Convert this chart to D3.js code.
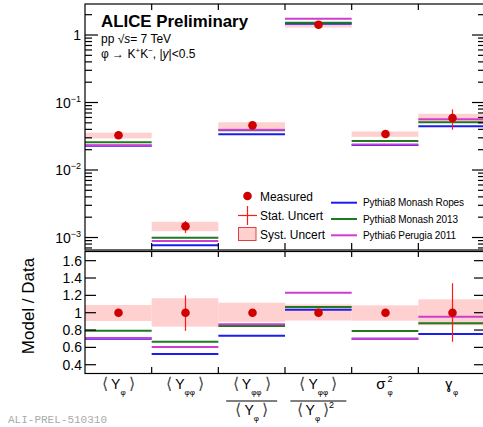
<!DOCTYPE html>
<html>
<head>
<meta charset="utf-8">
<script src="https://cdn.jsdelivr.net/npm/d3@7"></script>
<style>
  html, body { margin: 0; background: #fff; overflow: hidden; }
  svg { display: block; font-family: "Liberation Sans", Arial, Helvetica, sans-serif; }
</style>
</head>
<body>
<div id="chart"></div>
<script>
// bins (x categories)
const bins = ["Yphi", "Yphiphi", "ratio1", "ratio2", "sigma2", "gamma"];

// top panel: absolute values
const measured  = [0.0327, 0.00147, 0.0459, 1.42, 0.0341, 0.059];
const systLo    = [0.0294, 0.00124, 0.0410, 1.29, 0.0310, 0.0510];
const systHi    = [0.0357, 0.00171, 0.0510, 1.55, 0.0372, 0.0680];
const statLo    = [0.0325, 0.00117, 0.0457, 1.41, 0.0339, 0.0395];
const statHi    = [0.0329, 0.00176, 0.0461, 1.43, 0.0343, 0.0790];
const ropes     = [0.0228, 0.00077, 0.0338, 1.47, 0.0235, 0.0444];
const monash    = [0.0258, 0.00099, 0.0388, 1.52, 0.0269, 0.0512];
const perugia   = [0.0233, 0.00089, 0.0396, 1.74, 0.0239, 0.0564];

// bottom panel: model / data
const rMeasured = [1, 1, 1, 1, 1, 1];
const rSystLo   = [0.904, 0.839, 0.895, 0.910, 0.908, 0.855];
const rSystHi   = [1.089, 1.166, 1.115, 1.095, 1.085, 1.154];
const rStatLo   = [0.995, 0.790, 0.995, 0.995, 0.995, 0.665];
const rStatHi   = [1.005, 1.200, 1.005, 1.005, 1.005, 1.340];
const rRopes    = [0.700, 0.524, 0.735, 1.035, 0.700, 0.755];
const rMonash   = [0.793, 0.666, 0.847, 1.067, 0.789, 0.878];
const rPerugia  = [0.708, 0.605, 0.866, 1.230, 0.700, 0.954];

const topTicks = [1e-3, 1e-2, 1e-1, 1];
const topTickExp = ["-3", "-2", "-1", ""];
const ratioTicks = [0.4, 0.6, 0.8, 1, 1.2, 1.4, 1.6];
const ratioTickLabels = ["0.4", "0.6", "0.8", "1", "1.2", "1.4", "1.6"];

const models = [
  {name: "Pythia8 Monash Ropes", top: ropes, ratio: rRopes, color: "#1c1cf0", len: 101},
  {name: "Pythia8 Monash 2013", top: monash, ratio: rMonash, color: "#1e7a1e", len: 95},
  {name: "Pythia6 Perugia 2011", top: perugia, ratio: rPerugia, color: "#d03cd0", len: 93}
];

const red = "#d10000", statRed = "#ff1a1a", pink = "#ffd0d0";
const W = 483, H = 427;
const x0 = 85, x1 = 485;

const svg = d3.select("#chart").append("svg").attr("width", W).attr("height", H);

const x = d3.scaleBand().domain(bins).range([x0, x1]).padding(0);
const yTop = d3.scaleLog().domain([6.53e-4, 2.88]).range([250, 4]);
const yRat = d3.scaleLinear().domain([0.3, 1.7]).range([373.4, 252]);

function drawData(g, y, sLo, sHi, stLo, stHi, meas, key) {
  g.selectAll("rect.syst").data(bins).enter().append("rect").attr("class", "syst")
    .attr("x", d => x(d)).attr("width", x.bandwidth())
    .attr("y", (d, i) => y(sHi[i])).attr("height", (d, i) => y(sLo[i]) - y(sHi[i]))
    .attr("fill", pink);
  models.forEach((m, k) => {
    g.selectAll("line.m" + k).data(bins).enter().append("line").attr("class", "m" + k)
      .attr("x1", d => x(d)).attr("x2", d => x(d) + x.bandwidth())
      .attr("y1", (d, i) => y(m[key][i])).attr("y2", (d, i) => y(m[key][i]))
      .attr("stroke", m.color).attr("stroke-width", 2);
  });
  g.selectAll("line.stat").data(bins).enter().append("line").attr("class", "stat")
    .attr("x1", d => Math.round(x(d) + x.bandwidth() / 2) + 0.5)
    .attr("x2", d => Math.round(x(d) + x.bandwidth() / 2) + 0.5)
    .attr("y1", (d, i) => y(stLo[i])).attr("y2", (d, i) => y(stHi[i]))
    .attr("stroke", statRed).attr("stroke-width", 1.2);
  g.selectAll("circle.pt").data(bins).enter().append("circle").attr("class", "pt")
    .attr("cx", d => Math.round(x(d) + x.bandwidth() / 2) + 0.5)
    .attr("cy", (d, i) => y(meas[i])).attr("r", 4.3).attr("fill", red);
}

drawData(svg.append("g"), yTop, systLo, systHi, statLo, statHi, measured, "top");
drawData(svg.append("g"), yRat, rSystLo, rSystHi, rStatLo, rStatHi, rMeasured, "ratio");

// frames
const frame = svg.append("g").attr("stroke", "#000").attr("fill", "none").attr("stroke-width", 1.2);
frame.append("rect").attr("x", x0).attr("y", 4).attr("width", x1 - x0).attr("height", 246);
frame.append("rect").attr("x", x0).attr("y", 251.5).attr("width", x1 - x0).attr("height", 122);

// bin boundary ticks
const edges = bins.slice(1).map(b => x(b));
edges.forEach(e => {
  frame.append("line").attr("x1", e).attr("x2", e).attr("y1", 4).attr("y2", 10);
  frame.append("line").attr("x1", e).attr("x2", e).attr("y1", 250).attr("y2", 243);
  frame.append("line").attr("x1", e).attr("x2", e).attr("y1", 251.5).attr("y2", 257);
  frame.append("line").attr("x1", e).attr("x2", e).attr("y1", 373.5).attr("y2", 367);
});

// log ticks top panel
yTop.ticks().forEach(t => {
  const major = topTicks.some(v => Math.abs(v - t) / v < 1e-6);
  const len = major ? 13 : 7;
  const yy = yTop(t);
  frame.append("line").attr("x1", x0).attr("x2", x0 + len).attr("y1", yy).attr("y2", yy);
  frame.append("line").attr("x1", x1).attr("x2", x1 - len).attr("y1", yy).attr("y2", yy);
});
topTicks.forEach((t, i) => {
  const tx = svg.append("text").attr("x", 81).attr("y", yTop(t) + 5)
    .attr("text-anchor", "end").attr("font-size", 14);
  if (topTickExp[i] === "") { tx.text("1"); }
  else {
    tx.append("tspan").text("10");
    tx.append("tspan").attr("font-size", 9).attr("dy", -6).text(topTickExp[i].replace("-", "\u2212"));
  }
});

// ratio ticks
ratioTicks.forEach((t, i) => {
  const yy = yRat(t);
  frame.append("line").attr("x1", x0).attr("x2", x0 + 11).attr("y1", yy).attr("y2", yy);
  frame.append("line").attr("x1", x1).attr("x2", x1 - 11).attr("y1", yy).attr("y2", yy);
  svg.append("text").attr("x", 82).attr("y", yy + 5)
    .attr("text-anchor", "end").attr("font-size", 14).text(ratioTickLabels[i]);
});

svg.append("text").attr("transform", "translate(34,306) rotate(-90)")
  .attr("text-anchor", "middle").attr("font-size", 17).text("Model / Data");

// titles
svg.append("text").attr("x", 101).attr("y", 27).attr("font-weight", "bold")
  .attr("font-size", 16.5).attr("textLength", 147).attr("lengthAdjust", "spacingAndGlyphs")
  .text("ALICE Preliminary");
const t2 = svg.append("text").attr("x", 101).attr("y", 43).attr("font-size", 12);
t2.append("tspan").text("pp ");
t2.append("tspan").text("\u221A");
t2.append("tspan").attr("font-style", "italic").text("s");
t2.append("tspan").text("= 7 TeV");
const t3 = svg.append("text").attr("x", 101).attr("y", 58).attr("font-size", 12);
t3.append("tspan").text("\u03C6 \u2192 K");
t3.append("tspan").attr("font-size", 8).attr("dy", -5).text("+");
t3.append("tspan").attr("dy", 5).text("K");
t3.append("tspan").attr("font-size", 8).attr("dy", -5).text("\u2212");
t3.append("tspan").attr("dy", 5).text(", |");
t3.append("tspan").attr("font-style", "italic").text("y");
t3.append("tspan").text("|<0.5");

// legend left
const lg = svg.append("g");
lg.append("circle").attr("cx", 247.5).attr("cy", 196).attr("r", 4.3).attr("fill", red);
lg.append("line").attr("x1", 238).attr("x2", 257).attr("y1", 215.5).attr("y2", 215.5).attr("stroke", statRed).attr("stroke-width", 1.2);
lg.append("line").attr("x1", 247.5).attr("x2", 247.5).attr("y1", 206).attr("y2", 225).attr("stroke", statRed).attr("stroke-width", 1.2);
lg.append("rect").attr("x", 238.5).attr("y", 227.5).attr("width", 17.5).attr("height", 13)
  .attr("fill", pink).attr("stroke", "#e04040").attr("stroke-width", 1);
[["Measured", 200.5, 53], ["Stat. Uncert", 220, 63], ["Syst. Uncert", 238.5, 65]].forEach(([t, yy, len]) => {
  lg.append("text").attr("x", 260).attr("y", yy).attr("font-size", 12.5)
    .attr("textLength", len).attr("lengthAdjust", "spacingAndGlyphs").text(t);
});
// legend right
models.forEach((m, i) => {
  const yy = 202.7 + i * 16.3;
  lg.append("line").attr("x1", 331).attr("x2", 357).attr("y1", yy).attr("y2", yy)
    .attr("stroke", m.color).attr("stroke-width", 2);
  lg.append("text").attr("x", 363).attr("y", yy + 3.5).attr("font-size", 10)
    .attr("textLength", m.len).attr("lengthAdjust", "spacing").text(m.name);
});

// x labels
function bracket(cx, base, sub, sup) {
  const t = svg.append("text").attr("x", cx).attr("y", base).attr("text-anchor", "middle")
    .attr("font-size", 14);
  t.append("tspan").attr("font-size", 16).attr("fill", "#444").text("\u27E8");
  t.append("tspan").attr("dx", 3).text("Y");
  t.append("tspan").attr("font-size", 8).attr("dy", 6).text(sub);
  t.append("tspan").attr("font-size", 16).attr("fill", "#444").attr("dy", -6).attr("dx", 3).text("\u27E9");
  if (sup) t.append("tspan").attr("font-size", 9).attr("dy", -7).text(sup);
}
const cx = bins.map(b => x(b) + x.bandwidth() / 2);
bracket(cx[0], 389, "\u03C6");
bracket(cx[1], 389, "\u03C6\u03C6");
bracket(cx[2], 389, "\u03C6\u03C6");
svg.append("line").attr("x1", cx[2] - 25.5).attr("x2", cx[2] + 25.5).attr("y1", 401).attr("y2", 401).attr("stroke", "#000").attr("stroke-width", 1.2);
bracket(cx[2], 415, "\u03C6");
bracket(cx[3], 389, "\u03C6\u03C6");
svg.append("line").attr("x1", cx[3] - 28).attr("x2", cx[3] + 28).attr("y1", 401).attr("y2", 401).attr("stroke", "#000").attr("stroke-width", 1.2);
bracket(cx[3] - 3, 415, "\u03C6", "2");
svg.append("text").attr("x", cx[4] - 4).attr("y", 389).attr("text-anchor", "middle").attr("font-size", 15).text("\u03C3");
svg.append("text").attr("x", cx[4] + 5).attr("y", 382).attr("text-anchor", "middle").attr("font-size", 9).text("2");
svg.append("text").attr("x", cx[4] + 5).attr("y", 395).attr("text-anchor", "middle").attr("font-size", 8).text("\u03C6");
svg.append("text").attr("x", cx[5] - 3).attr("y", 389).attr("text-anchor", "middle").attr("font-size", 14).text("\u0263");
svg.append("text").attr("x", cx[5] + 4).attr("y", 395).attr("text-anchor", "middle").attr("font-size", 8).text("\u03C6");

svg.append("text").attr("x", 8).attr("y", 423).attr("font-family", "'Liberation Mono', 'DejaVu Sans Mono', monospace")
  .attr("font-size", 11).attr("fill", "#aaa").text("ALI-PREL-510310");
</script>
</body>
</html>
